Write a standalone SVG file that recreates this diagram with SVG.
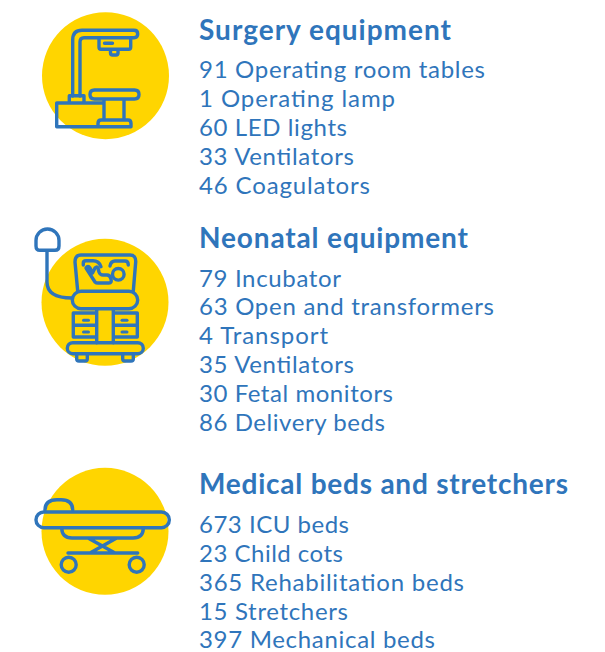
<svg xmlns="http://www.w3.org/2000/svg" width="605" height="652" viewBox="0 0 605 652">
<style>
.bg{fill:#FFD500}
.l{fill:none;stroke:#2F75BB;stroke-width:3.4;stroke-linecap:round;stroke-linejoin:round}
.f{fill:#2F75BB}
text{font-family:"Lato","Open Sans",sans-serif;fill:#2F75BB}
.h{font-size:28px;font-weight:700}
.t{font-size:24px}
</style>
<rect width="605" height="652" fill="#fff"/>
<g id="surgery-icon">
<circle class="bg" cx="105.500" cy="75.700" r="63.500"/>
<path class="l" d="M72.700 96V40Q72.700 30.300 82 30.300H134Q137.700 30.300 137.700 34T134 37.700H84Q80 37.700 80 42V96"/>
<path class="l" d="M99 38V47Q99 49.300 101 49.300H128.700Q130.700 49.300 130.700 47V38M110.500 49.300V53Q110.500 55 112.500 55H116Q118 55 118 53V49.300M104.500 43.300H112.500"/>
<path class="l" d="M69.300 103V95.700H84V103M56.700 103H103.300M56.700 103V126.700H131M94.500 90H134.500Q139 90 139 94.500T134.500 99H94.500Q90 99 90 94.500T94.500 90ZM104 99V120M124 99V120M98 126.700V123.500Q98 120 101 120H128Q131 120 131 123.500V126.700"/>
</g>
<g id="neonatal-icon">
<circle class="bg" cx="105" cy="302.300" r="63.500"/>
<path class="l" d="M36 246V240.500A11.500 11.500 0 0 1 59 240.500V246Q59 250.300 55 250.300H40Q36 250.300 36 246ZM47 250.300V282Q47 298 72 298"/>
<path class="l" d="M77.700 291L75 262Q75 255 81 255H130Q136 255 135.700 262L133.300 291"/>
<rect class="l" x="72.300" y="291.300" width="65.400" height="17.400" rx="8.700"/>
<path class="l" d="M83.300 265V263Q83.300 260.700 86 260.700H93Q99 260.700 101 266.700M110 266Q111 261 115 261H125Q128.300 261 128.300 265"/>
<path class="l" d="M86 268L95 282Q96 283 98 283H109Q112 283 111 279Q110 275 107 275H103Q100 275 99 272L98 268Q97 266 95 268L92.500 273L90 268Q88 265 86 268Z"/>
<circle class="l" cx="118.300" cy="274.300" r="5.800"/>
<path class="l" d="M73.300 313H96.700V337H73.300ZM73.300 325.300H96.700M113.300 313H137.300V337H113.300ZM113.300 325.300H137.300M96.700 308.700V342.700M113.300 308.700V342.700"/>
<rect class="f" x="82" y="318.800" width="8" height="3" rx="1.500"/>
<rect class="f" x="82" y="330.500" width="8" height="3" rx="1.500"/>
<rect class="f" x="120.500" y="318.800" width="8" height="3" rx="1.500"/>
<rect class="f" x="120.500" y="330.500" width="8" height="3" rx="1.500"/>
<rect class="l" x="67.300" y="342.700" width="76" height="11" rx="5.500"/>
<path class="l" d="M76.700 353.700V359Q76.700 361 79 361H85Q87.300 361 87.300 359V353.700M122.700 353.700V359Q122.700 361 125 361H131Q133.300 361 133.300 359V353.700"/>
</g>
<g id="beds-icon">
<circle class="bg" cx="105" cy="531.300" r="63.500"/>
<rect class="l" x="36" y="512" width="133.300" height="15.700" rx="7.800"/>
<path class="l" d="M45 510Q45 499.700 57 499.700H61Q72.700 499.700 72.700 510"/>
<path class="l" d="M61.700 528Q62 538 72 538H133Q143.300 538 143.300 528M88 538L115 553M116.700 538L90 553M68 553H137.700"/>
<circle class="l" cx="68.700" cy="564.700" r="7.500"/>
<circle class="l" cx="136.700" cy="564.700" r="7.500"/>
</g>
<g id="surgery-text">
<text class="h" x="199" y="40" textLength="252">Surgery equipment</text>
<text class="t" x="199" y="78" textLength="286">91 Operating room tables</text>
<text class="t" x="199" y="107" textLength="196">1 Operating lamp</text>
<text class="t" x="199" y="136" textLength="148">60 LED lights</text>
<text class="t" x="199" y="165" textLength="155">33 Ventilators</text>
<text class="t" x="199" y="194" textLength="171">46 Coagulators</text>
</g>
<g id="neonatal-text">
<text class="h" x="199" y="248" textLength="269">Neonatal equipment</text>
<text class="t" x="199" y="287" textLength="142">79 Incubator</text>
<text class="t" x="199" y="315" textLength="295">63 Open and transformers</text>
<text class="t" x="199" y="344" textLength="129">4 Transport</text>
<text class="t" x="199" y="373" textLength="155">35 Ventilators</text>
<text class="t" x="199" y="402" textLength="194">30 Fetal monitors</text>
<text class="t" x="199" y="431" textLength="186">86 Delivery beds</text>
</g>
<g id="beds-text">
<text class="h" x="199" y="494" textLength="369">Medical beds and stretchers</text>
<text class="t" x="199" y="533" textLength="150">673 ICU beds</text>
<text class="t" x="199" y="562" textLength="144">23 Child cots</text>
<text class="t" x="199" y="591" textLength="265">365 Rehabilitation beds</text>
<text class="t" x="199" y="620" textLength="149">15 Stretchers</text>
<text class="t" x="199" y="648" textLength="236">397 Mechanical beds</text>
</g>
</svg>
